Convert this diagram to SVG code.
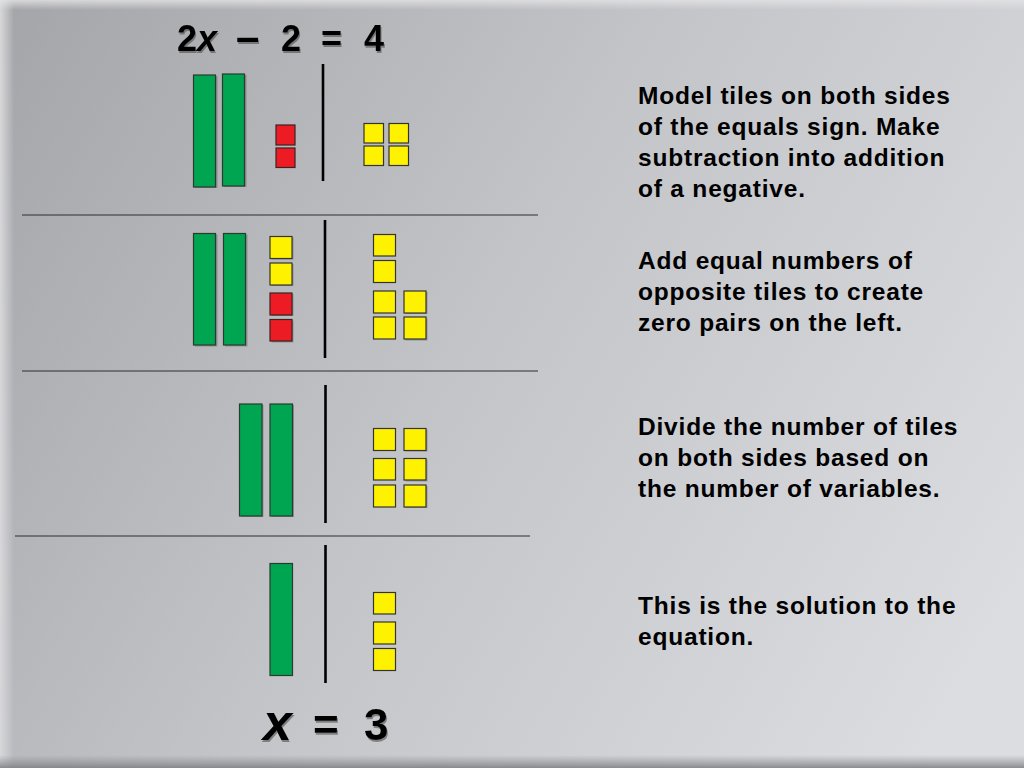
<svg xmlns="http://www.w3.org/2000/svg" width="1024" height="768" viewBox="0 0 1024 768">
<defs>
<linearGradient id="bg" x1="0" y1="0" x2="1024" y2="600" gradientUnits="userSpaceOnUse">
<stop offset="0" stop-color="#a4a5a8"/>
<stop offset="0.5" stop-color="#c4c5c9"/>
<stop offset="1" stop-color="#dcdde1"/>
</linearGradient>
<linearGradient id="bottomEdge" x1="0" y1="0" x2="0" y2="1">
<stop offset="0" stop-color="#8a8b8f" stop-opacity="0"/>
<stop offset="1" stop-color="#7d7e82" stop-opacity="0.85"/>
</linearGradient>
<linearGradient id="leftEdge" x1="0" y1="0" x2="1" y2="0">
<stop offset="0" stop-color="#d8d8db"/>
<stop offset="1" stop-color="#d8d8db" stop-opacity="0"/>
</linearGradient>
<linearGradient id="topEdge" x1="0" y1="0" x2="0" y2="1">
<stop offset="0" stop-color="#e4e4e6" stop-opacity="0.8"/>
<stop offset="1" stop-color="#e4e4e6" stop-opacity="0"/>
</linearGradient>
<filter id="ts" x="-10%" y="-20%" width="130%" height="150%">
<feDropShadow dx="1" dy="2" stdDeviation="0.6" flood-color="#444" flood-opacity="0.55"/>
</filter>
<style>
.g{fill:#00a551;stroke:#2a3a2e;stroke-width:1.2}
.r{fill:#ed1c24;stroke:#3a2222;stroke-width:1.2}
.y{fill:#fff200;stroke:#333;stroke-width:1.2}
.sh{fill:#5a5a5a;opacity:0.45}
.div{stroke:#000;stroke-width:2.6}
.sep{stroke:#2e2e2e;stroke-width:1.2}
.desc{font-family:"Liberation Sans",Arial,sans-serif;font-weight:bold;font-size:24.5px;letter-spacing:0.8px;fill:#000}
.eq{font-family:"Liberation Sans",Arial,sans-serif;font-weight:bold;fill:#000}
.it{font-style:italic}
</style>
</defs>

<rect width="1024" height="768" fill="url(#bg)"/>
<rect x="0" y="0" width="14" height="768" fill="url(#leftEdge)"/>
<rect x="0" y="0" width="1024" height="10" fill="url(#topEdge)"/>
<rect x="0" y="755" width="1024" height="13" fill="url(#bottomEdge)"/>

<g id="equation-top" class="eq" font-size="36" filter="url(#ts)">
<text x="177" y="51">2</text><text x="197" y="51" class="it">x</text><text x="236" y="51" font-size="42">–</text><text x="281" y="51">2</text><text x="321" y="51">=</text><text x="364" y="51">4</text>
</g>

<g id="separators">
<line class="sep" x1="22" y1="215" x2="538" y2="215"/>
<line class="sep" x1="22" y1="371" x2="538" y2="371"/>
<line class="sep" x1="15" y1="536" x2="530" y2="536"/>
</g>

<g id="row1">
<rect class="sh" x="195" y="76" width="22.5" height="112"/>
<rect class="sh" x="224" y="75" width="22.5" height="112"/>
<rect class="g" x="193.5" y="75" width="22" height="112"/>
<rect class="g" x="222.5" y="74" width="22" height="112"/>
<rect class="r" x="276" y="125" width="19" height="20"/>
<rect class="r" x="276" y="148" width="19" height="19.5"/>
<line class="div" x1="323" y1="64" x2="323" y2="181"/>
<rect class="y" x="364" y="123.5" width="19.5" height="19.5"/>
<rect class="y" x="389" y="123.5" width="19.5" height="19.5"/>
<rect class="y" x="364" y="146" width="19.5" height="19.5"/>
<rect class="y" x="389" y="146" width="19.5" height="19.5"/>
</g>

<g id="row2">
<rect class="sh" x="195" y="234.5" width="22.5" height="112"/>
<rect class="sh" x="225" y="234.5" width="22.5" height="112"/>
<rect class="g" x="193.5" y="233.5" width="22" height="111.5"/>
<rect class="g" x="223.5" y="233.5" width="22" height="111.5"/>
<rect class="sh" x="271.5" y="237.5" width="22" height="22"/>
<rect class="sh" x="271.5" y="264" width="22" height="22"/>
<rect class="sh" x="271.5" y="294" width="22" height="22"/>
<rect class="sh" x="271.5" y="320.5" width="22" height="22"/>
<rect class="y" x="270" y="236.5" width="22" height="22"/>
<rect class="y" x="270" y="263" width="22" height="22"/>
<rect class="r" x="270" y="293" width="22" height="22"/>
<rect class="r" x="270" y="319.5" width="22" height="21.5"/>
<line class="div" x1="325" y1="220" x2="325" y2="358"/>
<rect class="sh" x="405.5" y="292" width="22" height="22"/>
<rect class="sh" x="405.5" y="318.5" width="22" height="22"/>
<rect class="y" x="373.5" y="234.5" width="22" height="21.5"/>
<rect class="y" x="373.5" y="260.5" width="22" height="22"/>
<rect class="y" x="373.5" y="291" width="22" height="22"/>
<rect class="y" x="404" y="291" width="22" height="22"/>
<rect class="y" x="373.5" y="317" width="22" height="22"/>
<rect class="y" x="404" y="317" width="22" height="22"/>
</g>

<g id="row3">
<rect class="sh" x="241" y="405" width="22.5" height="112"/>
<rect class="sh" x="271.5" y="405" width="22.5" height="112"/>
<rect class="g" x="239.5" y="404" width="22.5" height="112"/>
<rect class="g" x="270" y="404" width="22.5" height="112"/>
<line class="div" x1="325.5" y1="385" x2="325.5" y2="523"/>
<rect class="sh" x="405.5" y="429.5" width="22" height="22"/>
<rect class="sh" x="405.5" y="459.5" width="22" height="22"/>
<rect class="sh" x="405.5" y="486" width="22" height="22"/>
<rect class="y" x="373.5" y="428.5" width="22" height="22"/>
<rect class="y" x="404" y="428.5" width="22" height="22"/>
<rect class="y" x="373.5" y="458.5" width="22" height="21.5"/>
<rect class="y" x="404" y="458.5" width="22" height="21.5"/>
<rect class="y" x="373.5" y="485" width="22" height="22"/>
<rect class="y" x="404" y="485" width="22" height="22"/>
</g>

<g id="row4">
<rect class="g" x="270" y="563.5" width="22.5" height="112"/>
<line class="div" x1="325.5" y1="545" x2="325.5" y2="683"/>
<rect class="y" x="373.5" y="592.5" width="22" height="21.5"/>
<rect class="y" x="373.5" y="622" width="22" height="22"/>
<rect class="y" x="373.5" y="648.5" width="22" height="22"/>
</g>

<g id="equation-bottom" class="eq" filter="url(#ts)">
<text x="263" y="740" font-size="52" class="it">x</text><text x="313" y="740" font-size="44">=</text><text x="364" y="740" font-size="44">3</text>
</g>

<g id="text1" class="desc">
<text x="638" y="103.5">Model tiles on both sides</text>
<text x="638" y="135">of the equals sign. Make</text>
<text x="638" y="166">subtraction into addition</text>
<text x="638" y="197">of a negative.</text>
</g>
<g id="text2" class="desc">
<text x="638" y="268.5">Add equal numbers of</text>
<text x="638" y="299.5">opposite tiles to create</text>
<text x="638" y="330.5">zero pairs on the left.</text>
</g>
<g id="text3" class="desc">
<text x="638" y="435">Divide the number of tiles</text>
<text x="638" y="466">on both sides based on</text>
<text x="638" y="497">the number of variables.</text>
</g>
<g id="text4" class="desc">
<text x="638" y="614">This is the solution to the</text>
<text x="638" y="645">equation.</text>
</g>
</svg>
